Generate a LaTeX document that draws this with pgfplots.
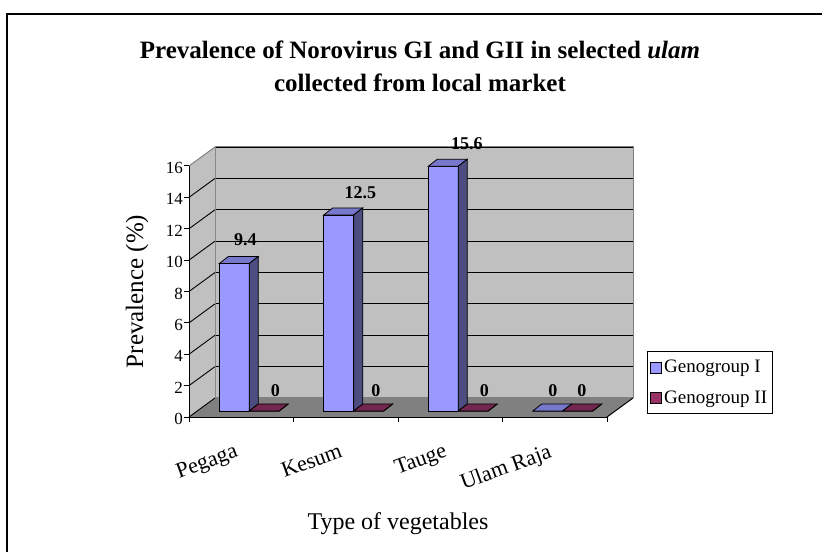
\documentclass[border=0pt]{standalone}
\usepackage{pgfplots}
\usepackage{pgfplotstable}
\pgfplotsset{compat=1.18}
\usepackage{fontspec}
\setmainfont{Liberation Serif}

\definecolor{wall}{HTML}{C0C0C0}
\definecolor{floorc}{HTML}{808080}
\definecolor{gIf}{HTML}{9999FF}
\definecolor{gIt}{HTML}{7777CC}
\definecolor{gIs}{HTML}{4D4D80}
\definecolor{gIIf}{HTML}{993366}
\definecolor{gIIt}{HTML}{732650}
\definecolor{gIIs}{HTML}{4D1A33}

% category centre, values, label offsets from category centre (pt)
\pgfplotstableread{
x   gI   gII  dxI  dyI  dxII dyII
0.5 9.4  0    -4   17   26   14
1.5 12.5 0    6.7  15.7 22   14
2.5 15.6 0    8.7  16   26   14
3.5 0    0    -10  14   19   14
}\datatable

% top and side faces of a 3D column; \barh is the value, 15.6875pt per unit
\pgfdeclareplotmark{cubeI}{%
  \pgfmathsetmacro{\hh}{\barh*15.6875}%
  \pgfsetstrokecolor{black}%
  \pgfpathmoveto{\pgfqpoint{-30pt}{0pt}}%
  \pgfpathlineto{\pgfqpoint{0pt}{0pt}}%
  \pgfpathlineto{\pgfqpoint{9pt}{7pt}}%
  \pgfpathlineto{\pgfqpoint{-21pt}{7pt}}%
  \pgfpathclose
  \pgfsetfillcolor{gIt}%
  \pgfusepath{fill,stroke}%
  \pgfpathmoveto{\pgfqpoint{0pt}{0pt}}%
  \pgfpathlineto{\pgfqpoint{9pt}{7pt}}%
  \pgfpathlineto{\pgfpoint{9pt}{7pt-\hh pt}}%
  \pgfpathlineto{\pgfpoint{0pt}{-\hh pt}}%
  \pgfpathclose
  \pgfsetfillcolor{gIs}%
  \pgfusepath{fill,stroke}%
}
\pgfdeclareplotmark{cubeII}{%
  \pgfmathsetmacro{\hh}{\barh*15.6875}%
  \pgfsetstrokecolor{black}%
  \pgfpathmoveto{\pgfqpoint{0pt}{0pt}}%
  \pgfpathlineto{\pgfqpoint{30pt}{0pt}}%
  \pgfpathlineto{\pgfqpoint{39pt}{7pt}}%
  \pgfpathlineto{\pgfqpoint{9pt}{7pt}}%
  \pgfpathclose
  \pgfsetfillcolor{gIIt}%
  \pgfusepath{fill,stroke}%
  \pgfpathmoveto{\pgfqpoint{30pt}{0pt}}%
  \pgfpathlineto{\pgfqpoint{39pt}{7pt}}%
  \pgfpathlineto{\pgfpoint{39pt}{7pt-\hh pt}}%
  \pgfpathlineto{\pgfpoint{30pt}{-\hh pt}}%
  \pgfpathclose
  \pgfsetfillcolor{gIIs}%
  \pgfusepath{fill,stroke}%
}

\begin{document}
\begin{tikzpicture}[x=1pt,y=1pt]
\useasboundingbox (0pt,0pt) rectangle (822pt,552pt);
\fill[white] (0pt,0pt) rectangle (822pt,552pt);
\draw[line width=1.5pt] (7pt,0pt) -- (7pt,538pt) -- (822pt,538pt);

% ---------- back wall ----------
\begin{axis}[scale only axis, width=418pt, height=251pt,
  at={(215pt,154pt)}, anchor=south west,
  xmin=0, xmax=4, ymin=0, ymax=16,
  xtick=\empty, ytick={0,2,...,16}, yticklabels={}, major tick length=0pt,
  ymajorgrids, grid style={black, line width=0.9pt},
  axis background/.style={fill=wall},
  axis line style={draw=floorc, line width=1pt}]
\addplot[draw=none, forget plot] coordinates {(0,0)};
\end{axis}

% ---------- front frame: floor, side wall, axes ----------
\begin{axis}[scale only axis, width=418pt, height=251pt,
  at={(189pt,135pt)}, anchor=south west,
  xmin=0, xmax=4, ymin=0, ymax=16, axis on top, clip=false,
  axis x line=bottom, axis y line=left,
  axis line style={-, line width=1pt, black},
  xtick={0,1,2,3,4}, xticklabels={},
  ytick={0,2,...,16},
  tick align=outside, major tick length=5pt,
  tick style={black, line width=1pt},
  /pgf/number format/assume math mode=true,
  yticklabel style={font=\fontsize{17}{20}\selectfont, inner sep=1pt, yshift=-2pt},
  extra x ticks={0.5,1.5,2.5,3.5},
  extra x tick labels={Pegaga,Kesum,Tauge,Ulam Raja},
  extra x tick style={tick style={draw=none},
    tick label style={rotate=20, anchor=north east,
      font=\fontsize{22}{26}\selectfont, inner sep=0pt, xshift=-14pt, yshift=-17pt}},
  ylabel={Prevalence (\%)},
  ylabel style={font=\fontsize{25}{30}\selectfont,
    at={(axis description cs:-0.1244,0.5)}, anchor=center},
  xlabel={Type of vegetables},
  xlabel style={font=\fontsize{24}{28}\selectfont,
    at={(axis description cs:0.5,-0.450)}, anchor=base},
  title={Prevalence of Norovirus GI and GII in selected \textit{ulam}\\collected from local market},
  title style={font=\bfseries\fontsize{25}{33}\selectfont, align=center,
    at={(axis description cs:0.5526,1.476)}, anchor=north, inner sep=0pt}]
\addplot[draw=none, forget plot] coordinates {(0,0)};
\fill[wall] (axis cs:0,0) -- ++(26pt,19pt) -- ([shift={(26pt,19pt)}]axis cs:0,16) -- (axis cs:0,16) -- cycle;
\fill[floorc] (axis cs:0,0) -- (axis cs:4,0) -- ++(26pt,19pt) -- ([shift={(26pt,19pt)}]axis cs:0,0) -- cycle;
\pgfplotsinvokeforeach{0,2,...,14}{\draw[line width=0.9pt] (axis cs:0,#1) -- ++(26pt,19pt);}
\draw[line width=1pt, floorc] (axis cs:0,16) -- ++(26pt,19pt);
\draw[line width=1pt] (axis cs:4,0) -- ++(26pt,19pt);
\end{axis}

% ---------- columns ----------
\begin{axis}[scale only axis, width=418pt, height=251pt,
  at={(197pt,141pt)}, anchor=south west,
  xmin=0, xmax=4, ymin=0, ymax=16, hide axis, clip=false,
  /pgf/number format/assume math mode=true,
  legend style={at={(1.0766,0.239)}, anchor=north west, draw=black,
    line width=0.8pt, font=\fontsize{19}{22}\selectfont,
    inner xsep=3pt, inner ysep=7pt, row sep=12pt},
  legend cell align=left]
\addplot[ybar, bar width=30pt, bar shift=-15pt, fill=gIf, draw=black, line width=0.8pt,
  legend image code/.code={\draw[fill=gIf, draw=black, line width=0.8pt] (0pt,-5.5pt) rectangle (11pt,5.5pt);},
  visualization depends on={\thisrow{dxI} \as \dx},
  visualization depends on={\thisrow{dyI} \as \dy},
  nodes near coords,
  nodes near coords style={font=\bfseries\fontsize{18}{20}\selectfont, text=black,
    anchor=south, inner sep=0pt, xshift=\dx pt, yshift=\dy pt}]
  table[x=x, y=gI] {\datatable};
\addplot[only marks, scatter, mark=cubeI, forget plot,
  visualization depends on={\thisrow{gI} \as \barh},
  mark options={line width=0.8pt}]
  table[x=x, y=gI] {\datatable};
\addplot[ybar, bar width=30pt, bar shift=15pt, fill=gIIf, draw=black, line width=0.8pt,
  legend image code/.code={\draw[fill=gIIf, draw=black, line width=0.8pt] (0pt,-5.5pt) rectangle (11pt,5.5pt);},
  visualization depends on={\thisrow{dxII} \as \dx},
  visualization depends on={\thisrow{dyII} \as \dy},
  nodes near coords,
  nodes near coords style={font=\bfseries\fontsize{18}{20}\selectfont, text=black,
    anchor=south, inner sep=0pt, xshift=\dx pt, yshift=\dy pt}]
  table[x=x, y=gII] {\datatable};
\addplot[only marks, scatter, mark=cubeII, forget plot,
  visualization depends on={\thisrow{gII} \as \barh},
  mark options={line width=0.8pt}]
  table[x=x, y=gII] {\datatable};
\legend{Genogroup I, Genogroup II}
\end{axis}
\end{tikzpicture}
\end{document}
